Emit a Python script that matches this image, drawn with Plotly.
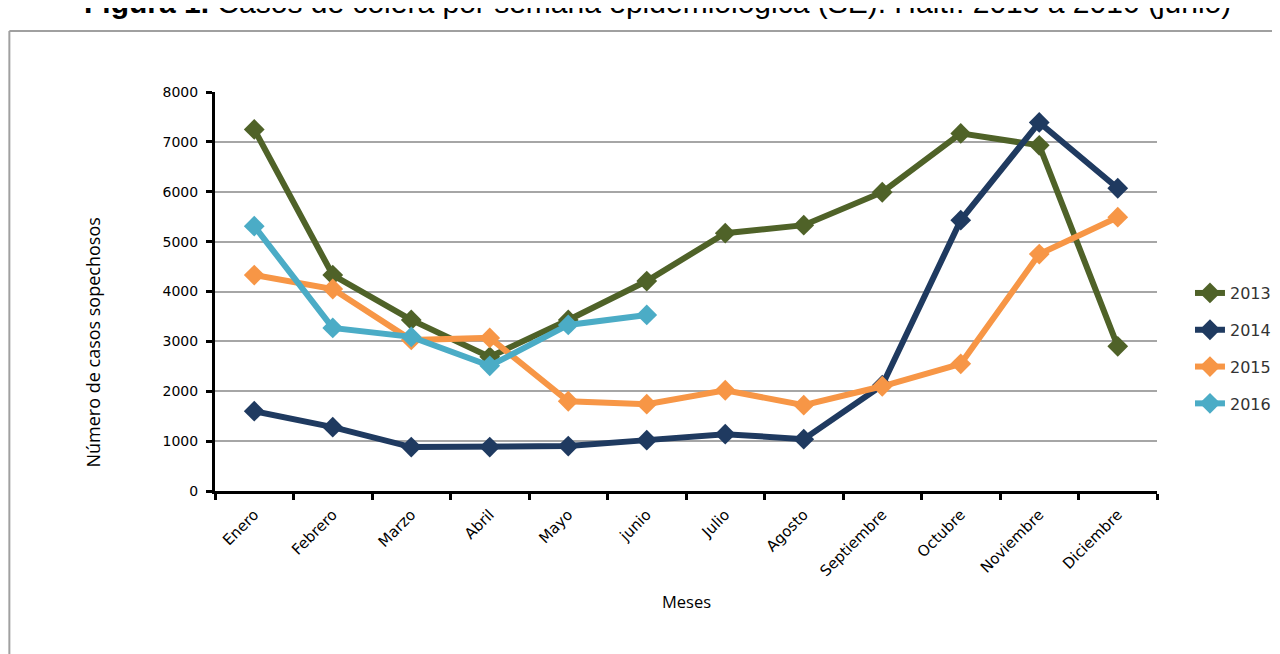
import plotly.graph_objects as go

meses = ["Enero", "Febrero", "Marzo", "Abril", "Mayo", "junio", "Julio",
         "Agosto", "Septiembre", "Octubre", "Noviembre", "Diciembre"]

casos_2013 = [7250, 4330, 3430, 2690, 3430, 4210, 5170, 5330, 5990, 7170, 6930, 2900]
casos_2014 = [1600, 1280, 880, 880, 900, 1020, 1140, 1040, 2120, 5430, 7390, 6070]
casos_2015 = [4330, 4050, 3030, 3070, 1800, 1740, 2020, 1720, 2100, 2550, 4750, 5490]
casos_2016 = [5310, 3270, 3090, 2510, 3330, 3530]

series = [
    ("2013", casos_2013, "#4F6228"),
    ("2014", casos_2014, "#1F3A60"),
    ("2015", casos_2015, "#F79646"),
    ("2016", casos_2016, "#4BACC6"),
]

fig = go.Figure()
for name, vals, color in series:
    fig.add_trace(go.Scatter(
        x=meses[:len(vals)], y=vals, name=name, legendgroup=name,
        mode="lines+markers",
        line=dict(color=color, width=6),
        marker=dict(symbol="diamond", size=16, color=color),
    ))

fig.update_layout(
    width=1280, height=654,
    paper_bgcolor="white", plot_bgcolor="white",
    margin=dict(l=207, r=129, t=84, b=171),
    showlegend=True,
    legend=dict(x=1.035, y=0.357, xanchor="left", yanchor="middle",
                font=dict(family="DejaVu Sans", size=16, color="#333333"),
                tracegroupgap=13, itemwidth=30),
    font=dict(family="DejaVu Sans", color="black"),
)

fig.update_xaxes(
    type="category", categoryorder="array", categoryarray=meses,
    range=[-0.5, 11.5],
    showline=True, linecolor="black", linewidth=3,
    ticks="outside", tickson="boundaries", ticklen=6, tickwidth=3, tickcolor="black",
    tickangle=-45, ticklabelstandoff=6,
    tickfont=dict(family="DejaVu Sans", size=15, color="black"),
    showgrid=False,
)
fig.update_yaxes(
    range=[0, 8000], dtick=1000,
    showline=True, linecolor="black", linewidth=3,
    ticks="outside", ticklen=6, tickwidth=3, tickcolor="black",
    ticklabelstandoff=5,
    tickfont=dict(family="DejaVu Sans", size=14, color="black"),
    showgrid=True, gridcolor="#a6a6a6", gridwidth=2,
    zeroline=False,
)

# Axis titles
fig.add_annotation(
    text="Número de casos sopechosos", textangle=-90,
    xref="paper", yref="paper", x=-0.13, y=0.371,
    xanchor="center", yanchor="middle", showarrow=False,
    font=dict(family="Open Sans", size=18, color="black"),
)
fig.add_annotation(
    text="Meses",
    xref="paper", yref="paper", x=0.501, y=-0.2757,
    xanchor="center", yanchor="middle", showarrow=False,
    font=dict(family="Open Sans", size=16.5, color="black"),
)

# Partially cut title at the top of the page (as in the reference)
fig.add_annotation(
    text="<b>Figura 1.</b> Casos de cólera por semana epidemiológica (SE). Haití: 2013 a 2016 (junio)",
    xref="paper", yref="paper", x=0.47, y=1.178, xanchor="center", yanchor="bottom",
    showarrow=False, font=dict(family="Liberation Sans", size=30, color="black"),
)

# Frame border
fig.add_shape(type="line", xref="paper", yref="paper",
              x0=-0.2183, x1=1.2, y0=1.1529, y1=1.1529,
              line=dict(color="#a0a0a0", width=2))
fig.add_shape(type="line", xref="paper", yref="paper",
              x0=-0.2183, x1=-0.2183, y0=-0.5, y1=1.1529,
              line=dict(color="#a0a0a0", width=2))

fig.write_html("out.html")
